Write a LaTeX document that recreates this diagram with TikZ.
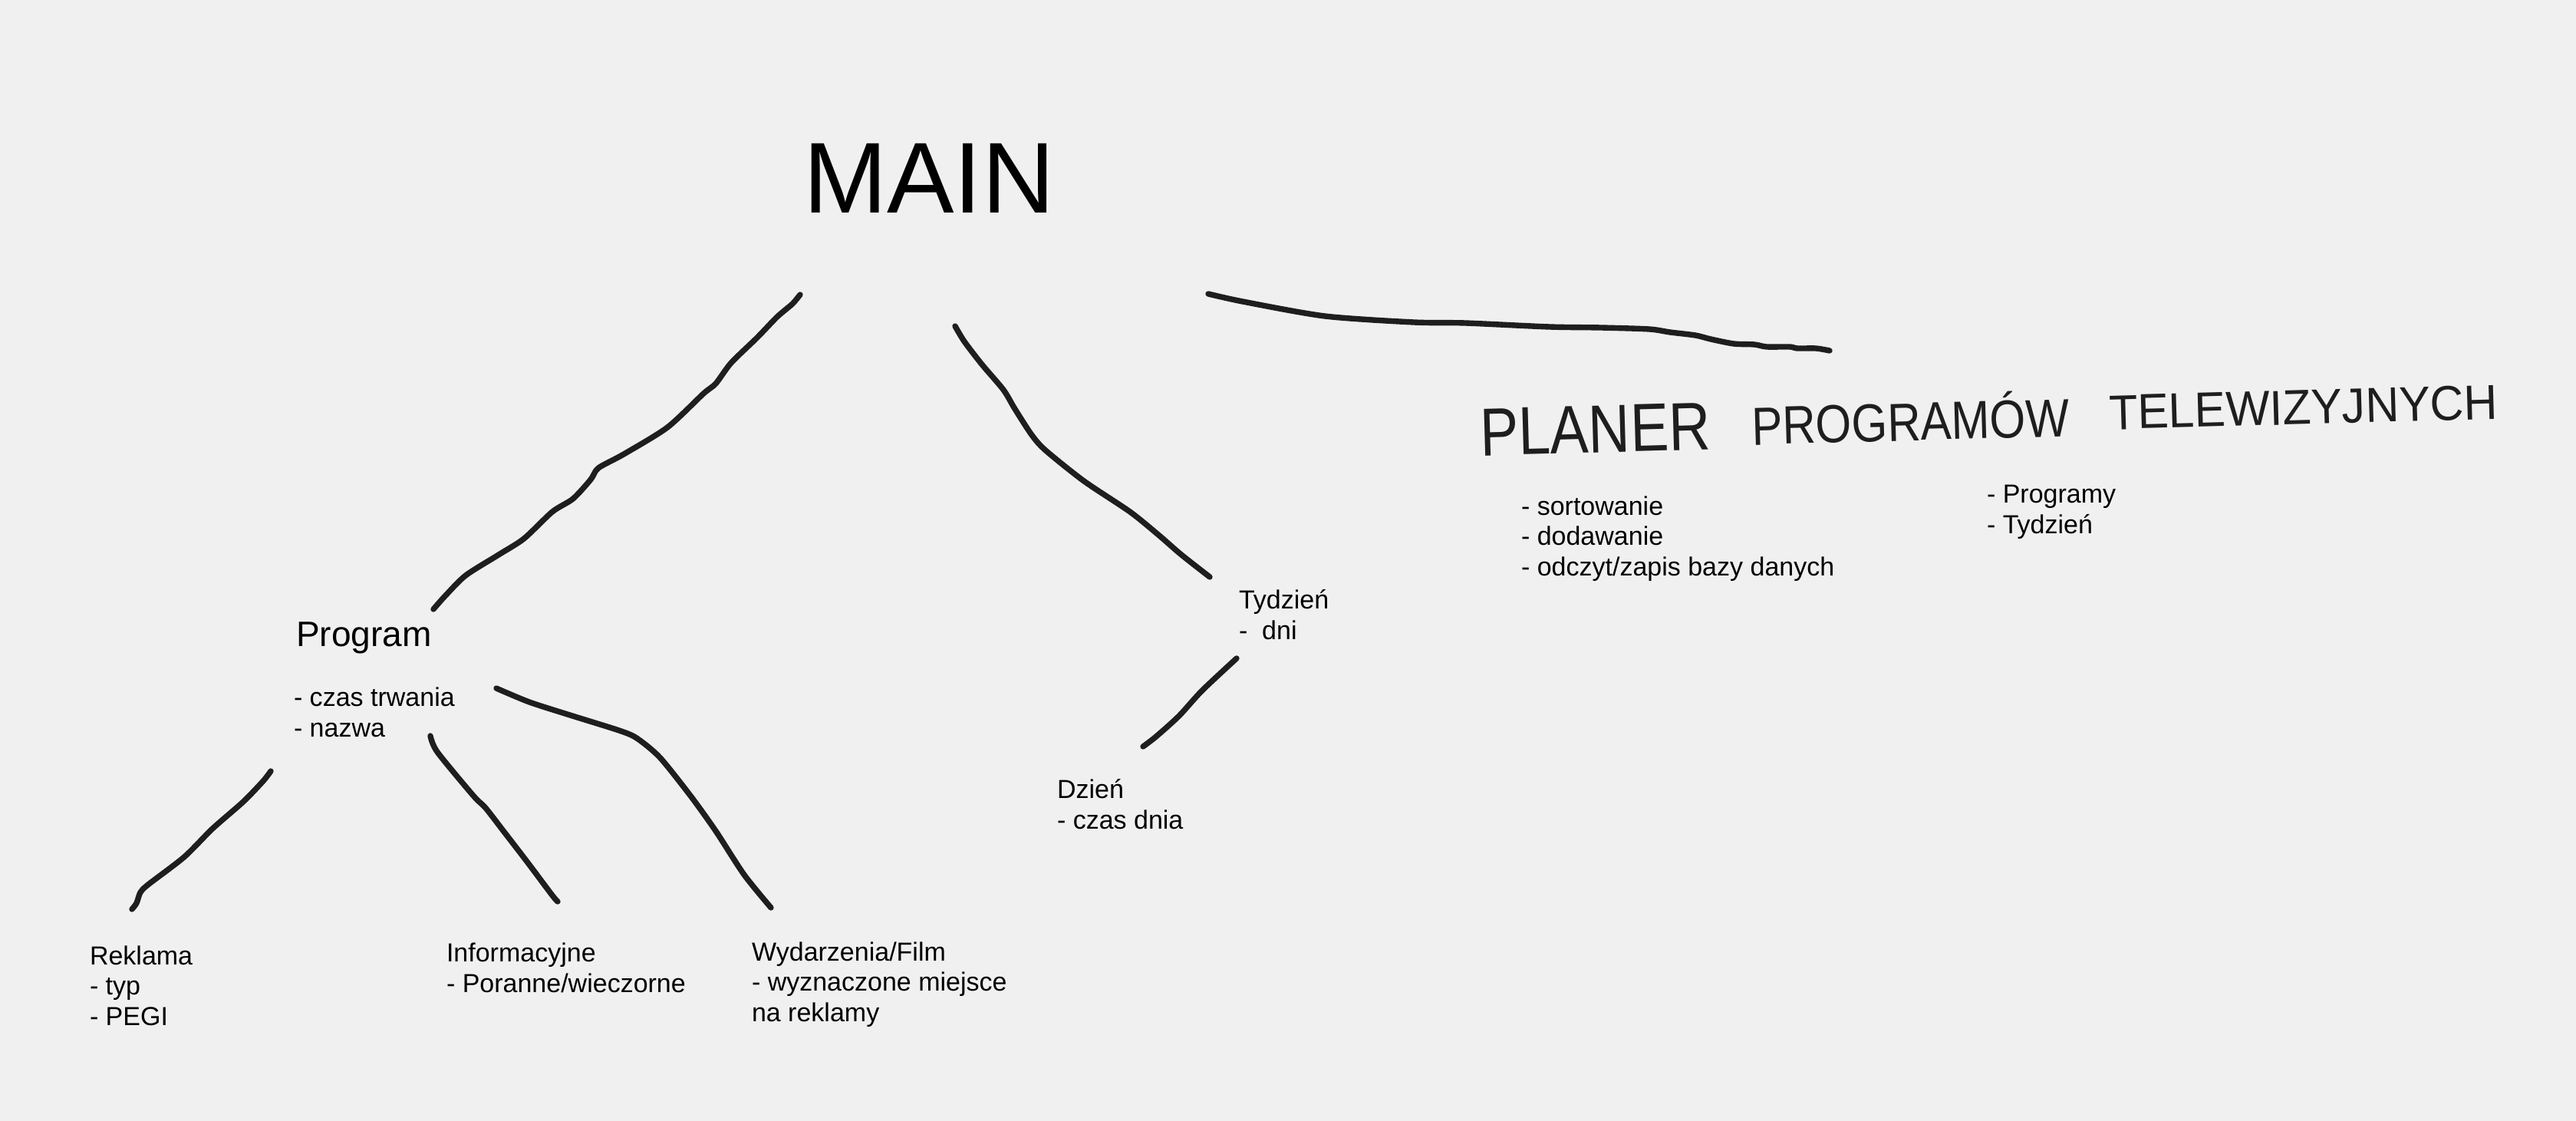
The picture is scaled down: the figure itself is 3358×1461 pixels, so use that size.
\documentclass[tikz,border=0pt]{standalone}
\usepackage{fontspec}
\setmainfont{Liberation Sans}
\definecolor{bg}{HTML}{F0F0F0}
\definecolor{ink}{HTML}{1E1E1E}
\tikzset{
  hand/.style={draw=ink, line width=2.1pt, line cap=round, line join=round},
  txt/.style={anchor=base west, inner sep=0pt, outer sep=0pt, text=black,
    font=\fontsize{9.67}{11.1}\selectfont, align=left},
  titleword/.style={anchor=base west, inner sep=0pt, outer sep=0pt, text=ink, rotate=1.6},
}
\begin{document}
\begin{tikzpicture}[x=0.01cm,y=-0.01cm]
\useasboundingbox[fill=bg] (0,0) rectangle (3358,1461);

% texts (multi-line nodes are placed by the baseline of their last line)
\node[txt, font=\fontsize{37.3}{40}\selectfont] (main) at (1047,278) {MAIN};
\node[txt, font=\fontsize{13.1}{15}\selectfont] (program) at (386,842) {Program};
\node[txt] (progattr) at (383,960) {- czas trwania\\- nazwa};
\node[txt] (tydzien) at (1615,833) {Tydzień\\-\ \ dni};
\node[txt] (dzien) at (1378,1080) {Dzień\\- czas dnia};
\node[txt] (reklama) at (117,1336) {Reklama\\- typ\\- PEGI};
\node[txt] (informacyjne) at (582,1293) {Informacyjne\\- Poranne/wieczorne};
\node[txt] (wydarzenia) at (980,1331) {Wydarzenia/Film\\- wyznaczone miejsce\\na reklamy};
\node[txt] (funkcje) at (1983,750) {- sortowanie\\- dodawanie\\- odczyt/zapis bazy danych};
\node[txt] (klasy) at (2590,695) {- Programy\\- Tydzień};

% handwritten title
\node[titleword, font=\fontsize{24}{26}\selectfont] (t1) at (1930,594) {\scalebox{0.89}[1.05]{PLANER}};
\node[titleword, font=\fontsize{19.9}{22}\selectfont] (t2) at (2284,580) {\scalebox{0.86}[1]{PROGRAMÓW}};
\node[titleword, font=\fontsize{18.2}{20}\selectfont] (t3) at (2750,560) {\scalebox{0.95}[1]{TELEWIZYJNYCH}};

% connector end points
\coordinate (m1) at (1043,384);  \coordinate (p1) at (565,794);
\coordinate (m2) at (1245,425);  \coordinate (ty1) at (1577,752);
\coordinate (m3) at (1575,383);  \coordinate (ti1) at (2385,457);
\coordinate (ty2) at (1612,858); \coordinate (dz1) at (1490,973);
\coordinate (p2) at (353,1005);  \coordinate (re1) at (172,1185);
\coordinate (p3) at (561,959);   \coordinate (in1) at (727,1175);
\coordinate (p4) at (647,897);   \coordinate (wy1) at (1005,1183);

% connectors
\draw[hand] plot[smooth, tension=0.45] coordinates {(m1) (1033,396) (1013,413) (987,440) (953,473) (933,500) (917,513) (870,557) (813,592) (780,610) (770,625) (747,650) (720,667) (683,702) (650,723) (607,750) (580,777) (p1)};
\draw[hand] plot[smooth, tension=0.45] coordinates {(m2) (1257,445) (1280,475) (1308,508) (1323,533) (1345,567) (1363,587) (1413,627) (1473,667) (1510,697) (1540,723) (ty1)};
\draw[hand] plot[smooth, tension=0.45] coordinates {(m3) (1620,393) (1727,412) (1843,420) (1910,421) (2020,426) (2087,427) (2150,429) (2177,433) (2210,437) (2230,442) (2260,448) (2287,449) (2303,452) (2333,452) (2343,454) (2367,454) (ti1)};
\draw[hand] plot[smooth, tension=0.45] coordinates {(ty2) (1567,900) (1537,933) (1507,960) (dz1)};
\draw[hand] plot[smooth, tension=0.45] coordinates {(p2) (343,1018) (317,1045) (277,1080) (240,1117) (193,1153) (183,1163) (178,1177) (re1)};
\draw[hand] plot[smooth, tension=0.45] coordinates {(p3) (570,980) (617,1037) (633,1053) (657,1084) (687,1123) (720,1167) (in1)};
\draw[hand] plot[smooth, tension=0.45] coordinates {(p4) (690,915) (743,932) (807,952) (830,962) (860,987) (900,1037) (933,1083) (970,1140) (wy1)};
\end{tikzpicture}
\end{document}
